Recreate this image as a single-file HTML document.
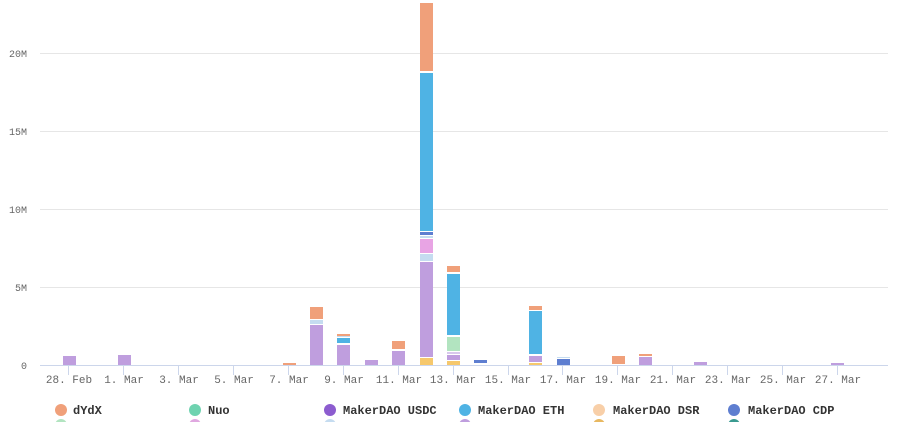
<!DOCTYPE html>
<html><head><meta charset="utf-8"><style>
body{margin:0;background:#fff;width:910px;height:422px;overflow:hidden}
svg text{font-family:"Liberation Mono",monospace}
</style></head><body>
<svg width="910" height="422" xmlns="http://www.w3.org/2000/svg">
<g stroke="#e6e6e6" stroke-width="1">
<line x1="40" y1="53.5" x2="888" y2="53.5"/>
<line x1="40" y1="131.5" x2="888" y2="131.5"/>
<line x1="40" y1="209.5" x2="888" y2="209.5"/>
<line x1="40" y1="287.5" x2="888" y2="287.5"/>
</g>
<line x1="40" y1="365.5" x2="888" y2="365.5" stroke="#ccd6eb"/>
<g stroke="#ccd6eb">
<line x1="68.5" y1="365" x2="68.5" y2="375"/><line x1="123.5" y1="365" x2="123.5" y2="375"/>
<line x1="178.5" y1="365" x2="178.5" y2="375"/><line x1="233.5" y1="365" x2="233.5" y2="375"/>
<line x1="288.5" y1="365" x2="288.5" y2="375"/><line x1="343.5" y1="365" x2="343.5" y2="375"/>
<line x1="398.5" y1="365" x2="398.5" y2="375"/><line x1="453.5" y1="365" x2="453.5" y2="375"/>
<line x1="508.5" y1="365" x2="508.5" y2="375"/><line x1="562.5" y1="365" x2="562.5" y2="375"/>
<line x1="617.5" y1="365" x2="617.5" y2="375"/><line x1="672.5" y1="365" x2="672.5" y2="375"/>
<line x1="727.5" y1="365" x2="727.5" y2="375"/><line x1="782.5" y1="365" x2="782.5" y2="375"/>
<line x1="837.5" y1="365" x2="837.5" y2="375"/>
</g>
<g font-size="10" fill="#666" text-anchor="end">
<text x="27" y="57">20M</text><text x="27" y="135">15M</text><text x="27" y="213">10M</text>
<text x="27" y="291">5M</text><text x="27" y="369">0</text>
</g>
<g font-size="11" fill="#666" text-anchor="middle">
<text x="69" y="383">28. Feb</text><text x="124" y="383">1. Mar</text><text x="179" y="383">3. Mar</text>
<text x="234" y="383">5. Mar</text><text x="289" y="383">7. Mar</text><text x="344" y="383">9. Mar</text>
<text x="399" y="383">11. Mar</text><text x="453" y="383">13. Mar</text><text x="508" y="383">15. Mar</text>
<text x="563" y="383">17. Mar</text><text x="618" y="383">19. Mar</text><text x="673" y="383">21. Mar</text>
<text x="728" y="383">23. Mar</text><text x="783" y="383">25. Mar</text><text x="838" y="383">27. Mar</text>
</g>
<g>
<rect x="63" y="356" width="13" height="9" fill="#bf9ede"/>
<rect x="118" y="355" width="13" height="10" fill="#bf9ede"/>
<rect x="283" y="363" width="13" height="2" fill="#f0a07a"/>
<rect x="310" y="325" width="13" height="40" fill="#bf9ede"/>
<rect x="310" y="320" width="13" height="4" fill="#c5dcf0"/>
<rect x="310" y="307" width="13" height="12" fill="#f0a07a"/>
<rect x="337" y="345" width="13" height="20" fill="#bf9ede"/>
<rect x="337" y="338" width="13" height="5" fill="#4fb3e4"/>
<rect x="337" y="336" width="13" height="1" fill="#c5dcf0"/>
<rect x="337" y="334" width="13" height="2" fill="#f0a07a"/>
<rect x="365" y="360" width="13" height="5" fill="#bf9ede"/>
<rect x="392" y="351" width="13" height="14" fill="#bf9ede"/>
<rect x="392" y="341" width="13" height="8" fill="#f0a07a"/>
<rect x="420" y="358" width="13" height="7" fill="#f6c86c"/>
<rect x="420" y="262" width="13" height="95" fill="#bf9ede"/>
<rect x="420" y="254" width="13" height="7" fill="#c5dcf0"/>
<rect x="420" y="239" width="13" height="14" fill="#e8a4e4"/>
<rect x="420" y="236" width="13" height="2" fill="#c5dcf0"/>
<rect x="420" y="232" width="13" height="3" fill="#5e7ed0"/>
<rect x="420" y="73" width="13" height="158" fill="#4fb3e4"/>
<rect x="420" y="3" width="13" height="68" fill="#f0a07a"/>
<rect x="447" y="361" width="13" height="4" fill="#f6c86c"/>
<rect x="447" y="355" width="13" height="5" fill="#bf9ede"/>
<rect x="447" y="352" width="13" height="2" fill="#d8c8ec"/>
<rect x="447" y="337" width="13" height="14" fill="#b2e4c0"/>
<rect x="447" y="274" width="13" height="61" fill="#4fb3e4"/>
<rect x="447" y="266" width="13" height="6" fill="#f0a07a"/>
<rect x="474" y="360" width="13" height="3" fill="#5e7ed0"/>
<rect x="529" y="363" width="13" height="2" fill="#f6c86c"/>
<rect x="529" y="356" width="13" height="6" fill="#bf9ede"/>
<rect x="529" y="311" width="13" height="43" fill="#4fb3e4"/>
<rect x="529" y="306" width="13" height="4" fill="#f0a07a"/>
<rect x="557" y="359" width="13" height="6" fill="#5e7ed0"/>
<rect x="557" y="357" width="13" height="1" fill="#c5dcf0"/>
<rect x="612" y="356" width="13" height="8" fill="#f0a07a"/>
<rect x="639" y="357" width="13" height="8" fill="#bf9ede"/>
<rect x="639" y="354" width="13" height="2" fill="#f0a07a"/>
<rect x="694" y="362" width="13" height="3" fill="#bf9ede"/>
<rect x="831" y="363" width="13" height="2" fill="#bf9ede"/>
</g>
<g font-size="12" font-weight="bold" fill="#333">
<circle cx="61" cy="410" r="6" fill="#f0a07a"/><text x="73" y="414">dYdX</text>
<circle cx="195" cy="410" r="6" fill="#6fd3b0"/><text x="208" y="414">Nuo</text>
<circle cx="330" cy="410" r="6" fill="#8c5ccf"/><text x="343" y="414">MakerDAO USDC</text>
<circle cx="465" cy="410" r="6" fill="#4fb3e4"/><text x="478" y="414">MakerDAO ETH</text>
<circle cx="599" cy="410" r="6" fill="#f8cfa8"/><text x="613" y="414">MakerDAO DSR</text>
<circle cx="734" cy="410" r="6" fill="#5e7ed0"/><text x="748" y="414">MakerDAO CDP</text>
<circle cx="61" cy="425" r="6" fill="#b2e4c0"/>
<circle cx="195" cy="425" r="6" fill="#e0a8e0"/>
<circle cx="330" cy="425" r="6" fill="#c5dcf0"/>
<circle cx="465" cy="425" r="6" fill="#bf9ede"/>
<circle cx="599" cy="425" r="6" fill="#e8b860"/>
<circle cx="734" cy="425" r="6" fill="#3a9a90"/>
</g>
</svg>
</body></html>
